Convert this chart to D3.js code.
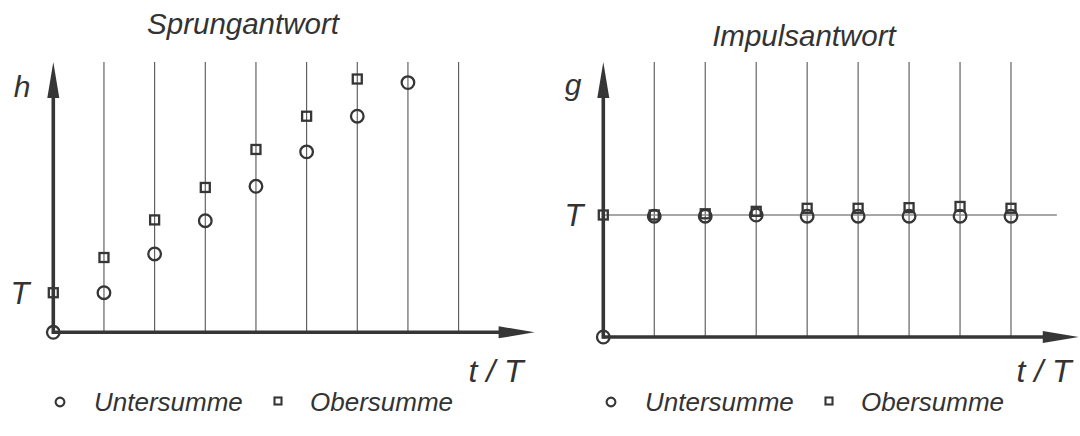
<!DOCTYPE html>
<html>
<head>
<meta charset="utf-8">
<script src="https://cdn.jsdelivr.net/npm/d3@7"></script>
<style>
  html, body { margin: 0; padding: 0; background: #fff; }
  svg { display: block; }
  text { font-family: "Liberation Sans", Arial, sans-serif; font-style: italic; fill: #333; }
</style>
</head>
<body>
<svg id="chart" width="1080" height="436"></svg>
<script>
// Sampling instants t/T (vertical grid lines)
const gridSteps = [1, 2, 3, 4, 5, 6, 7, 8];

// Step response h in units of T: lower sum (circles) and upper sum (squares)
const stepLowerT = [0, 1, 2, 3, 4, 5, 6, 7];
const stepLower  = [0, 1.0, 1.98, 2.82, 3.69, 4.56, 5.46, 6.31];
const stepUpperT = [0, 1, 2, 3, 4, 5, 6];
const stepUpper  = [1.0, 1.89, 2.84, 3.66, 4.62, 5.46, 6.40];

// Impulse response g in units of T
const impLowerT = [0, 1, 2, 3, 4, 5, 6, 7, 8];
const impLower  = [0, 0.99, 0.99, 1.0, 0.99, 0.99, 0.99, 0.99, 0.99];
const impUpperT = [0, 1, 2, 3, 4, 5, 6, 7, 8];
const impUpper  = [1.0, 1.0, 1.01, 1.03, 1.055, 1.055, 1.06, 1.07, 1.055];

const legendLabels = ["Untersumme", "Obersumme"];

const INK = "#363636";
const svg = d3.select("#chart");

function panel(cfg) {
  const g = svg.append("g");
  const x = d3.scaleLinear().domain([0, 8]).range(cfg.xRange);
  const y = d3.scaleLinear().domain([0, cfg.yMax]).range(cfg.yRange);

  // vertical grid lines at the sampling instants
  g.selectAll("line.grid").data(gridSteps).join("line")
    .attr("class", "grid")
    .attr("x1", d => x(d)).attr("x2", d => x(d))
    .attr("y1", y(0) - 1).attr("y2", y(cfg.yMax))
    .attr("stroke", "#555").attr("stroke-width", 1.1);

  // horizontal reference level (impulse panel)
  if (cfg.refLevel != null) {
    g.append("line")
      .attr("x1", x(0)).attr("x2", x(cfg.refEnd))
      .attr("y1", y(cfg.refLevel)).attr("y2", y(cfg.refLevel))
      .attr("stroke", "#8a8a8a").attr("stroke-width", 1.5);
  }

  // axes with arrowheads
  const head = 36, half = 6;
  const xEnd = x(cfg.xArrow), yTop = y(cfg.yMax);
  g.append("line")
    .attr("x1", x(0)).attr("x2", xEnd - head + 2)
    .attr("y1", y(0)).attr("y2", y(0))
    .attr("stroke", INK).attr("stroke-width", 3.6);
  g.append("path")
    .attr("d", `M${xEnd},${y(0)} L${xEnd - head},${y(0) - half} L${xEnd - head},${y(0) + half} Z`)
    .attr("fill", INK);
  g.append("line")
    .attr("x1", x(0)).attr("x2", x(0))
    .attr("y1", y(0) + 1.8).attr("y2", yTop + head - 2)
    .attr("stroke", INK).attr("stroke-width", 3.6);
  g.append("path")
    .attr("d", `M${x(0)},${yTop} L${x(0) - half},${yTop + head} L${x(0) + half},${yTop + head} Z`)
    .attr("fill", INK);

  // upper sum: squares
  const s = 9;
  g.selectAll("rect.upper").data(cfg.upper.map((v, i) => [cfg.upperT[i], v])).join("rect")
    .attr("class", "upper")
    .attr("x", d => x(d[0]) - s / 2).attr("y", d => y(d[1]) - s / 2)
    .attr("width", s).attr("height", s)
    .attr("fill", "none").attr("stroke", INK).attr("stroke-width", 2.3);

  // lower sum: circles
  g.selectAll("circle.lower").data(cfg.lower.map((v, i) => [cfg.lowerT[i], v])).join("circle")
    .attr("class", "lower")
    .attr("cx", d => x(d[0])).attr("cy", d => y(d[1]))
    .attr("r", 6.3)
    .attr("fill", "none").attr("stroke", INK).attr("stroke-width", 2.3);

  // labels
  g.append("text").attr("x", cfg.title[0]).attr("y", cfg.title[1])
    .attr("text-anchor", "middle").attr("font-size", 29.5).text(cfg.titleText);
  g.append("text").attr("x", cfg.yLab[0]).attr("y", cfg.yLab[1])
    .attr("text-anchor", "middle").attr("font-size", 30).text(cfg.yName);
  g.append("text").attr("x", cfg.tLab[0]).attr("y", y(1))
    .attr("dy", "0.36em")
    .attr("text-anchor", "middle").attr("font-size", 31).text("T");
  g.append("text").attr("x", cfg.xLab[0]).attr("y", cfg.xLab[1])
    .attr("text-anchor", "middle").attr("font-size", 32).text("t / T");

  // legend
  const lg = g.append("g").attr("transform", `translate(${cfg.legend[0]},${cfg.legend[1]})`);
  lg.append("circle").attr("cx", 0).attr("cy", 0).attr("r", 4.4)
    .attr("fill", "none").attr("stroke", INK).attr("stroke-width", 2.1);
  lg.append("text").attr("x", 34).attr("y", 0).attr("dy", "0.36em")
    .attr("font-size", 26).text(legendLabels[0]);
  lg.append("rect").attr("x", 218 - 3.5).attr("y", -4.5).attr("width", 7).attr("height", 7)
    .attr("fill", "none").attr("stroke", INK).attr("stroke-width", 2.1);
  lg.append("text").attr("x", 250).attr("y", 0).attr("dy", "0.36em")
    .attr("font-size", 26).text(legendLabels[1]);
}

panel({
  xRange: [53.3, 458.6], yRange: [332.3, 62], yMax: 6.83, xArrow: 9.5,
  upper: stepUpper, upperT: stepUpperT, lower: stepLower, lowerT: stepLowerT,
  title: [243, 34], titleText: "Sprungantwort",
  yLab: [22, 97], yName: "h", tLab: [20], xLab: [496, 382],
  legend: [60, 402]
});

panel({
  xRange: [603.3, 1011], yRange: [337, 62], yMax: 2.254, xArrow: 9.33,
  refLevel: 1, refEnd: 8.9,
  upper: impUpper, upperT: impUpperT, lower: impLower, lowerT: impLowerT,
  title: [804, 46], titleText: "Impulsantwort",
  yLab: [573, 95], yName: "g", tLab: [574], xLab: [1044, 382],
  legend: [611, 402]
});
</script>
</body>
</html>
